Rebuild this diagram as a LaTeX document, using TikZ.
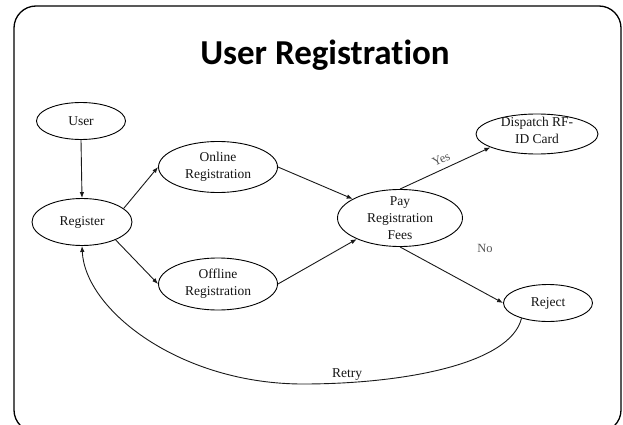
\documentclass[tikz,border=0pt]{standalone}
\usepackage{fontspec}
\setmainfont{Liberation Serif}
\newfontfamily\titlefont[Ligatures={NoCommon}]{Carlito}
\usetikzlibrary{shapes.geometric,arrows.meta}
\definecolor{txt}{HTML}{141414}
\definecolor{lbgray}{HTML}{555555}
\tikzset{
  ell/.style={draw=black, ellipse, inner sep=0pt, line width=0.9pt, fill=white},
  lbl/.style={align=center, text=txt, inner sep=0pt, font=\fontsize{13.5}{17}\selectfont},
  conn/.style={draw=black!90, line width=0.9pt, -{Latex[length=6pt,width=4.5pt]}},
  edgelbl/.style={text=lbgray, inner sep=0pt, font=\fontsize{12.5}{15}\selectfont}
}
\begin{document}
\begin{tikzpicture}[x=1pt,y=-1pt]
\useasboundingbox (0,0) rectangle (623,425);
\begin{scope}
\clip (0,0) rectangle (623,425);
\draw[line width=1.3pt, rounded corners=22pt] (14,6) rectangle (621,432);
\end{scope}
\node[anchor=base, inner sep=0pt, font=\titlefont\bfseries\fontsize{35}{40}\selectfont] (title) at (325,65) {User Registration};

\node[ell, minimum width=89pt, minimum height=37pt, label={[lbl]center:User}] (user) at (81,121) {};
\node[ell, minimum width=100pt, minimum height=47pt, label={[lbl]center:Register}] (register) at (82,222) {};
\node[ell, minimum width=119pt, minimum height=51pt, label={[lbl]center:{Online\\Registration}}] (online) at (218,167) {};
\node[ell, minimum width=119pt, minimum height=52pt, label={[lbl]center:{Offline\\Registration}}] (offline) at (218,284) {};
\node[ell, minimum width=125pt, minimum height=57pt, label={[lbl]center:{Pay\\Registration\\Fees}}] (pay) at (400,218) {};
\node[ell, minimum width=122pt, minimum height=40pt, label={[lbl,yshift=4pt]center:{Dispatch RF-\\ID Card}}] (dispatch) at (537,134) {};
\node[ell, minimum width=89pt, minimum height=37pt, label={[lbl]center:Reject}] (reject) at (548,303) {};

\draw[conn] (user.south) -- (register.north);
\draw[conn] (register.18) -- (online.west);
\draw[conn] (register.-28) -- (offline.west);
\draw[conn] (online.east) -- (pay.158);
\draw[conn] (offline.east) -- (pay.206);
\draw[conn] (pay.north) -- node[edgelbl, pos=0.5, sloped, above=5pt] (yes) {Yes} (dispatch.196);
\draw[conn] (pay.south) -- (reject.west);
\node[edgelbl] (no) at (485,248) {No};
\draw[conn] (reject.210) .. controls (510,365) and (400,384) .. (303,384)
  node[lbl, pos=0.85, above=2pt] (retry) {Retry}
  .. controls (180,384) and (85,310) .. (register.south);
\end{tikzpicture}
\end{document}
